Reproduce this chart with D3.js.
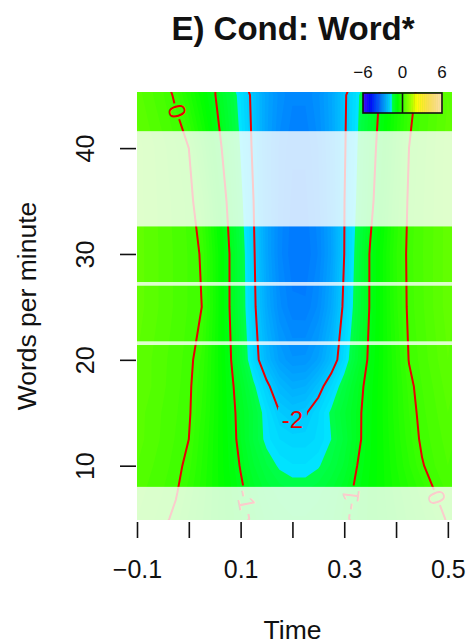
<!DOCTYPE html>
<html>
<head>
<meta charset="utf-8">
<script src="https://cdn.jsdelivr.net/npm/d3@7"></script>
<style>
  body { margin: 0; background: #fff; }
  text { font-family: "Liberation Sans", Arial, Helvetica, sans-serif; }
</style>
</head>
<body>
<div id="chart"></div>
<script>
// grid of the fitted difference surface
var times = [-0.1, -0.075, -0.05, -0.025, 0, 0.025, 0.05, 0.075, 0.1, 0.125, 0.15, 0.175, 0.2,
  0.225, 0.25, 0.275, 0.3, 0.325, 0.35, 0.375, 0.4, 0.425, 0.45, 0.475, 0.5];
var wpm = [5, 7.5, 10, 12.5, 15, 17.5, 20, 25, 30, 35, 40, 45];
// one row per wpm value, one column per time value
var effect = [
  [0.2, 0.13, 0.05, -0.05, -0.22, -0.38, -0.55, -0.72, -0.88, -1.06, -1.23, -1.34, -1.39, -1.39, -1.34, -1.23, -1.06, -0.9, -0.77, -0.64, -0.51, -0.37, -0.24, -0.11, 0.03],
  [0.25, 0.17, 0.1, 0.02, -0.14, -0.34, -0.54, -0.74, -0.94, -1.15, -1.33, -1.44, -1.49, -1.49, -1.43, -1.3, -1.12, -0.93, -0.77, -0.62, -0.46, -0.31, -0.16, 0.0, 0.12],
  [0.3, 0.22, 0.14, 0.06, -0.06, -0.3, -0.54, -0.78, -1.02, -1.29, -1.49, -1.63, -1.69, -1.69, -1.62, -1.48, -1.28, -1.0, -0.8, -0.61, -0.41, -0.21, -0.02, 0.1, 0.2],
  [0.35, 0.26, 0.18, 0.09, 0.0, -0.26, -0.53, -0.8, -1.1, -1.42, -1.66, -1.8, -1.85, -1.85, -1.78, -1.6, -1.38, -1.08, -0.82, -0.6, -0.37, -0.14, 0.04, 0.14, 0.25],
  [0.35, 0.27, 0.19, 0.11, 0.03, -0.21, -0.51, -0.82, -1.12, -1.41, -1.7, -1.99, -2.1, -2.03, -1.81, -1.56, -1.32, -1.08, -0.83, -0.59, -0.34, -0.1, 0.07, 0.18, 0.3],
  [0.4, 0.31, 0.22, 0.13, 0.04, -0.17, -0.5, -0.84, -1.19, -1.55, -1.91, -2.27, -2.44, -2.4, -2.14, -1.79, -1.47, -1.14, -0.85, -0.59, -0.33, -0.06, 0.1, 0.22, 0.35],
  [0.4, 0.31, 0.23, 0.14, 0.06, -0.12, -0.5, -0.88, -1.33, -1.81, -2.29, -2.62, -2.78, -2.77, -2.58, -2.22, -1.75, -1.32, -0.91, -0.6, -0.3, 0.01, 0.14, 0.27, 0.4],
  [0.45, 0.36, 0.27, 0.18, 0.09, 0.0, -0.46, -0.93, -1.42, -1.91, -2.48, -2.87, -3.07, -3.08, -2.88, -2.49, -1.92, -1.44, -0.97, -0.6, -0.23, 0.05, 0.18, 0.32, 0.45],
  [0.45, 0.36, 0.27, 0.18, 0.09, -0.02, -0.47, -0.93, -1.43, -1.95, -2.55, -2.96, -3.17, -3.18, -2.99, -2.6, -2.0, -1.48, -0.97, -0.59, -0.21, 0.06, 0.19, 0.32, 0.45],
  [0.45, 0.35, 0.26, 0.16, 0.07, -0.14, -0.59, -1.04, -1.52, -2.0, -2.56, -2.94, -3.13, -3.13, -2.94, -2.57, -2.01, -1.56, -1.11, -0.69, -0.28, 0.04, 0.18, 0.31, 0.45],
  [0.45, 0.34, 0.23, 0.11, 0.0, -0.39, -0.78, -1.19, -1.62, -2.07, -2.58, -2.92, -3.08, -3.08, -2.9, -2.55, -2.04, -1.61, -1.18, -0.78, -0.39, 0.0, 0.15, 0.3, 0.45],
  [0.35, 0.23, 0.11, -0.04, -0.35, -0.66, -0.98, -1.34, -1.71, -2.11, -2.55, -2.84, -2.98, -2.98, -2.82, -2.52, -2.06, -1.66, -1.27, -0.88, -0.48, -0.09, 0.11, 0.26, 0.4]
];
var contourLevels = [-2, -1, 0];
var contourLabels = [
  { level: 0, time: -0.022, wpm: 43.5, angle: 73 },
  { level: -2, time: 0.2, wpm: 14.4, angle: 0 },
  { level: -1, time: 0.111, wpm: 6.8, angle: 79 },
  { level: -1, time: 0.311, wpm: 6.8, angle: -83 },
  { level: 0, time: 0.479, wpm: 7.0, angle: 69 }
];
// wpm ranges where the difference is not significant (greyed out)
var nonSigBands = [[4.8, 8.0], [21.4, 21.75], [27.0, 27.35], [32.6, 41.6]];
var timeExtent = [-0.1, 0.508];
var wpmExtent = [4.87, 45.3];
var xTicks = [-0.1, 0, 0.1, 0.2, 0.3, 0.4, 0.5];
var xTickLabels = [-0.1, 0.1, 0.3, 0.5];
var yTicks = [10, 20, 30, 40];
var zlim = [-6, 6];
var legendTicks = [-6, 0, 6];

var W = 467, H = 644;
var PLOT = { left: 137, right: 452, top: 92, bottom: 520 };
var LINE_COLOR = "#e80000";
var LABEL_SIZE = 24;

// topo.colors style palette
var color = d3.scaleLinear()
  .domain([-6, -1.62, -1.6199, 2, 2.0001, 6])
  .range(["hsl(258,100%,50%)", "hsl(186,100%,50%)", "hsl(138,100%,50%)",
    "hsl(66,100%,50%)", "hsl(60,100%,50%)", "hsl(36,100%,85%)"])
  .interpolate(d3.interpolateHsl);

var x = d3.scaleLinear().domain(timeExtent).range([PLOT.left, PLOT.right]);
var y = d3.scaleLinear().domain(wpmExtent).range([PLOT.bottom, PLOT.top]);

var n = times.length, m = wpm.length;
var values = effect.flat();
// d3.contours puts sample i at i + 0.5
var colIdx = d3.scaleLinear().domain(times.map(function (d, i) { return i + 0.5; })).range(times);
var rowIdx = d3.scaleLinear().domain(wpm.map(function (d, i) { return i + 0.5; })).range(wpm);
var path = d3.geoPath(d3.geoTransform({
  point: function (px, py) { this.stream.point(x(colIdx(px)), y(rowIdx(py))); }
}));

var svg = d3.select("#chart").append("svg")
  .attr("width", W)
  .attr("height", H);

var defs = svg.append("defs");
defs.append("clipPath").attr("id", "plotClip")
  .append("rect")
  .attr("x", PLOT.left).attr("y", PLOT.top)
  .attr("width", PLOT.right - PLOT.left)
  .attr("height", PLOT.bottom - PLOT.top);

function gapWidth(d) { return String(d.level).length * LABEL_SIZE * 0.52 + 4; }

var mask = defs.append("mask").attr("id", "labelGaps")
  .attr("maskUnits", "userSpaceOnUse")
  .attr("x", 0).attr("y", 0).attr("width", W).attr("height", H);
mask.append("rect").attr("width", W).attr("height", H).attr("fill", "white");
mask.selectAll("rect.gap")
  .data(contourLabels)
  .enter().append("rect")
  .attr("class", "gap")
  .attr("x", function (d) { return -gapWidth(d) / 2; })
  .attr("y", -12)
  .attr("width", gapWidth)
  .attr("height", 24)
  .attr("fill", "black")
  .attr("transform", function (d) {
    return "translate(" + x(d.time) + "," + y(d.wpm) + ") rotate(" + d.angle + ")";
  });

var plot = svg.append("g").attr("clip-path", "url(#plotClip)");

// filled surface
var fillSteps = d3.range(-3.3, 0.55, 0.1);
var bands = d3.contours().size([n, m]).thresholds(fillSteps)(values);
plot.append("g").selectAll("path")
  .data(bands)
  .enter().append("path")
  .attr("d", path)
  .attr("fill", function (d) { return color(d.value + 0.05); });

// contour lines
var lines = d3.contours().size([n, m]).thresholds(contourLevels)(values);
plot.append("g")
  .attr("mask", "url(#labelGaps)")
  .selectAll("path")
  .data(lines)
  .enter().append("path")
  .attr("d", path)
  .attr("fill", "none")
  .attr("stroke", LINE_COLOR)
  .attr("stroke-width", 2);

plot.append("g").selectAll("text")
  .data(contourLabels)
  .enter().append("text")
  .attr("transform", function (d) {
    return "translate(" + x(d.time) + "," + y(d.wpm) + ") rotate(" + d.angle + ")";
  })
  .attr("text-anchor", "middle")
  .attr("dy", "0.36em")
  .attr("font-size", LABEL_SIZE)
  .attr("fill", LINE_COLOR)
  .text(function (d) { return String(d.level); });

// non significant regions
plot.append("g").selectAll("rect")
  .data(nonSigBands)
  .enter().append("rect")
  .attr("x", PLOT.left)
  .attr("width", PLOT.right - PLOT.left)
  .attr("y", function (d) { return y(d[1]); })
  .attr("height", function (d) { return y(d[0]) - y(d[1]); })
  .attr("fill", "white")
  .attr("fill-opacity", 0.8);

// colour key
var legendX = d3.scaleLinear().domain(zlim).range([363, 442]);
var legend = svg.append("g").attr("transform", "translate(0,93)");
legend.selectAll("rect.slice")
  .data(d3.range(zlim[0], zlim[1], 0.1))
  .enter().append("rect")
  .attr("class", "slice")
  .attr("x", function (d) { return legendX(d); })
  .attr("width", function (d) { return legendX(d + 0.1) - legendX(d) + 0.4; })
  .attr("height", 20)
  .attr("fill", function (d) { return color(d + 0.05); });
legend.append("rect")
  .attr("x", legendX(zlim[0])).attr("width", legendX(zlim[1]) - legendX(zlim[0]))
  .attr("height", 20)
  .attr("fill", "none").attr("stroke", "#111").attr("stroke-width", 1.6);
legend.append("line")
  .attr("x1", legendX(0)).attr("x2", legendX(0))
  .attr("y1", 0).attr("y2", 20)
  .attr("stroke", "#111").attr("stroke-width", 1.6);
legend.selectAll("text")
  .data(legendTicks)
  .enter().append("text")
  .attr("x", function (d) { return legendX(d); })
  .attr("y", -15)
  .attr("text-anchor", "middle")
  .attr("font-size", 17)
  .attr("fill", "#111")
  .text(d3.format("d"));

// axes
var fmt = d3.format(".1f");
var xAxis = svg.append("g")
  .attr("transform", "translate(0,522)")
  .call(d3.axisBottom(x)
    .tickValues(xTicks)
    .tickSize(16)
    .tickPadding(22)
    .tickFormat(function (d) { return xTickLabels.indexOf(d) >= 0 ? fmt(d) : ""; }));
xAxis.select(".domain").remove();
xAxis.selectAll(".tick line").attr("stroke", "#111").attr("stroke-width", 1.6);
xAxis.selectAll("text").attr("font-size", 25).attr("fill", "#111")
  .style("font-family", '"Liberation Sans", Arial, sans-serif');

var yAxis = svg.append("g")
  .attr("transform", "translate(136,0)")
  .call(d3.axisLeft(y).tickValues(yTicks).tickSize(16));
yAxis.select(".domain").remove();
yAxis.selectAll(".tick line").attr("stroke", "#111").attr("stroke-width", 1.6);
yAxis.selectAll("text")
  .attr("x", null).attr("dy", null)
  .attr("text-anchor", "middle")
  .attr("transform", "translate(-42,0) rotate(-90)")
  .attr("font-size", 25).attr("fill", "#111")
  .style("font-family", '"Liberation Sans", Arial, sans-serif');

svg.append("text")
  .attr("x", 293).attr("y", 40)
  .attr("text-anchor", "middle")
  .attr("font-size", 33)
  .attr("font-weight", "bold")
  .attr("fill", "#111")
  .text("E) Cond: Word*");

svg.append("text")
  .attr("x", 292.5).attr("y", 639)
  .attr("text-anchor", "middle")
  .attr("font-size", 26.5)
  .attr("fill", "#111")
  .text("Time");

svg.append("text")
  .attr("transform", "translate(36,306) rotate(-90)")
  .attr("text-anchor", "middle")
  .attr("font-size", 26.5)
  .attr("fill", "#111")
  .text("Words per minute");
</script>
</body>
</html>
